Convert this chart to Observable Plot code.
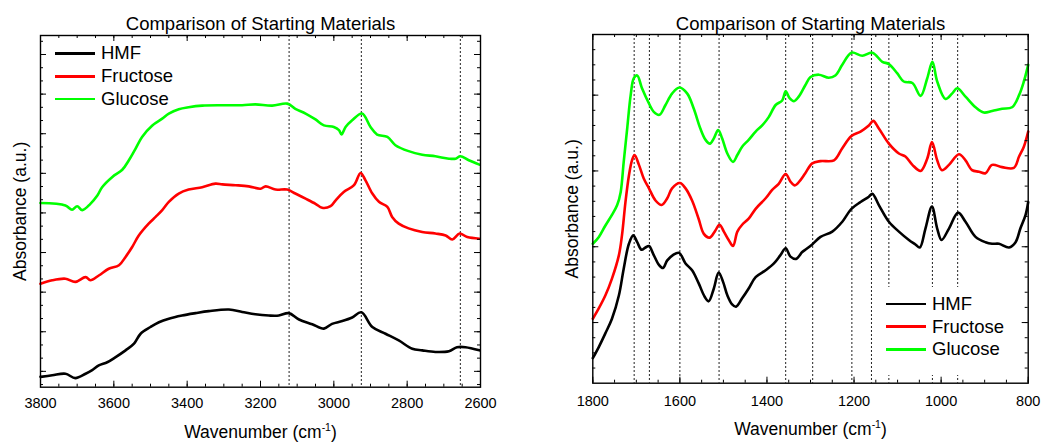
<!DOCTYPE html>
<html><head><meta charset="utf-8">
<script src="https://cdn.jsdelivr.net/npm/d3@7"></script>
<script src="https://cdn.jsdelivr.net/npm/@observablehq/plot@0.6"></script>
<style>
html,body{margin:0;padding:0;background:#fff;}
#wrap{position:relative;width:1042px;height:442px;overflow:hidden;font-family:"Liberation Sans",Arial,sans-serif;}
#wrap svg.panel{position:absolute;top:0;}
.legend{position:absolute;background:#fff;font-size:18.5px;color:#000;}
.legend .row{display:flex;align-items:center;height:22.8px;}
.legend .sw{width:40px;height:2.8px;margin-right:6px;}
</style>
</head><body>
<div id="wrap"></div>
<script>
// ---------- Series names & colours ----------
const seriesNames = ["HMF", "Fructose", "Glucose"];
const seriesColors = ["#000000", "#ff0000", "#00ff00"];

// ---------- Left panel (3800–2600 cm-1) ----------
const leftHMF_x = [3800,3768,3732,3705,3677,3659,3641,3618,3595,3568,3545,3527,3500,3477,3450,3414,3377,3341,3286,3250,3214,3177,3150,3123,3095,3059,3027,3005,2977,2950,2925,2895,2859,2823,2786,2759,2723,2686,2664,2641,2603];
const leftHMF_y = [-0.14,-0.10,-0.06,-0.17,-0.06,0.03,0.15,0.23,0.36,0.53,0.70,0.95,1.12,1.24,1.33,1.41,1.47,1.52,1.56,1.50,1.44,1.41,1.41,1.47,1.31,1.19,1.08,1.20,1.27,1.36,1.49,1.12,0.95,0.78,0.57,0.53,0.49,0.51,0.61,0.61,0.53];

const leftFru_x = [3800,3768,3732,3705,3677,3664,3641,3614,3586,3568,3550,3532,3505,3486,3468,3450,3423,3396,3359,3323,3304,3268,3232,3200,3186,3159,3127,3105,3077,3050,3032,3009,2995,2973,2945,2927,2914,2895,2877,2854,2841,2823,2796,2759,2723,2695,2677,2657,2636,2603];
const leftFru_y = [2.21,2.30,2.34,2.26,2.38,2.30,2.42,2.59,2.68,2.89,3.14,3.43,3.73,3.90,4.07,4.28,4.49,4.59,4.65,4.74,4.72,4.70,4.67,4.61,4.67,4.59,4.59,4.49,4.36,4.23,4.13,4.17,4.32,4.53,4.70,5.01,4.83,4.49,4.28,4.15,3.90,3.73,3.61,3.52,3.48,3.43,3.33,3.48,3.39,3.35];

const leftGlu_x = [3800,3732,3714,3700,3686,3664,3645,3632,3604,3577,3559,3541,3523,3495,3468,3450,3423,3396,3359,3304,3250,3214,3168,3127,3105,3077,3050,3027,3000,2986,2979,2968,2950,2923,2900,2882,2854,2832,2796,2759,2723,2686,2668,2655,2632,2603];
const leftGlu_y = [4.25,4.19,4.08,4.17,4.07,4.23,4.44,4.65,4.91,5.09,5.33,5.62,5.92,6.21,6.38,6.51,6.62,6.67,6.71,6.72,6.72,6.74,6.71,6.76,6.63,6.51,6.36,6.21,6.17,6.09,5.98,6.17,6.34,6.51,6.17,5.98,5.92,5.71,5.56,5.47,5.43,5.37,5.37,5.43,5.33,5.22];

const leftPeaks = [3122, 2925, 2655];
const leftXTicks = [3800, 3600, 3400, 3200, 3000, 2800, 2600];
const leftYTicks = [0, 1, 2, 3, 4, 5, 6, 7, 8];

// ---------- Right panel (1800–800 cm-1) ----------
const rightHMF_x = [1800,1786,1771,1756,1740,1729,1717,1707,1698,1688,1679,1671,1660,1648,1639,1629,1616,1602,1587,1572,1557,1543,1534,1522,1511,1501,1491,1480,1471,1457,1442,1426,1403,1384,1369,1357,1346,1333,1319,1312,1296,1277,1250,1227,1206,1185,1166,1158,1143,1120,1097,1074,1059,1049,1036,1021,1009,999,982,961,944,921,898,883,867,844,829,818,806,800];
const rightHMF_y = [-0.47,-0.32,-0.14,0.05,0.36,0.71,1.04,1.15,1.06,0.96,0.99,1.01,0.89,0.76,0.72,0.82,0.89,0.92,0.78,0.69,0.52,0.34,0.28,0.45,0.66,0.54,0.36,0.24,0.21,0.32,0.45,0.60,0.69,0.78,0.89,0.98,0.87,0.84,0.93,0.96,1.03,1.13,1.20,1.33,1.50,1.59,1.66,1.70,1.55,1.33,1.20,1.09,1.03,0.99,1.24,1.53,1.24,1.09,1.24,1.45,1.33,1.13,1.06,1.04,1.04,0.99,1.06,1.24,1.42,1.59];

const rightFru_x = [1800,1786,1771,1756,1740,1733,1725,1717,1710,1704,1694,1683,1671,1656,1642,1629,1618,1600,1587,1572,1557,1545,1532,1520,1509,1499,1488,1478,1468,1457,1442,1426,1403,1388,1373,1357,1346,1336,1323,1312,1296,1277,1246,1227,1206,1185,1166,1156,1143,1120,1097,1082,1066,1047,1032,1021,1009,998,982,959,944,929,913,898,883,860,833,821,810,800];
const rightFru_y = [0.05,0.19,0.36,0.58,0.89,1.15,1.59,1.94,2.14,2.21,2.08,1.90,1.77,1.61,1.55,1.64,1.77,1.84,1.77,1.61,1.37,1.17,1.12,1.20,1.29,1.20,1.09,1.01,1.20,1.29,1.37,1.50,1.64,1.75,1.83,1.96,1.86,1.81,1.88,1.97,2.10,2.13,2.14,2.30,2.46,2.52,2.60,2.66,2.56,2.36,2.23,2.19,2.08,2.00,2.16,2.38,2.14,2.01,2.08,2.22,2.14,2.01,1.99,1.97,2.08,2.05,2.04,2.19,2.32,2.52];

const rightGlu_x = [1800,1786,1771,1756,1744,1736,1729,1721,1713,1706,1698,1687,1671,1660,1647,1633,1618,1601,1583,1568,1553,1541,1531,1522,1512,1503,1491,1478,1468,1457,1442,1426,1411,1396,1380,1365,1357,1348,1338,1327,1312,1300,1281,1258,1243,1227,1206,1181,1158,1135,1120,1101,1086,1066,1047,1032,1020,1009,990,975,963,944,921,902,883,860,837,821,810,800];
const rightGlu_y = [1.04,1.13,1.28,1.42,1.55,1.72,2.12,2.56,3.00,3.22,3.26,3.09,2.89,2.78,2.74,2.87,3.02,3.10,3.02,2.82,2.56,2.41,2.36,2.43,2.54,2.43,2.23,2.12,2.21,2.32,2.41,2.52,2.60,2.71,2.87,2.93,3.05,2.96,2.92,2.98,3.13,3.24,3.27,3.23,3.26,3.40,3.56,3.52,3.56,3.44,3.41,3.29,3.18,3.16,2.99,3.22,3.44,3.18,2.95,3.02,3.09,2.98,2.84,2.77,2.79,2.82,2.84,3.00,3.18,3.40];

const rightPeaks = [1705, 1670, 1600, 1510, 1357, 1295, 1205, 1160, 1120, 1020, 962];
const rightXTicks = [1800, 1600, 1400, 1200, 1000, 800];
const rightYTicks = [0, 1, 2, 3];

// ---------- Texts ----------
const titleText = "Comparison of Starting Materials";
const xLabelText = "Wavenumber (cm-1)";
const yLabelText = "Absorbance (a.u.)";

const FONT = '"Liberation Sans", Arial, sans-serif';

function rows(xs, ys, name) { return xs.map((x, i) => ({wn: x, a: ys[i], s: name})); }

function panel(o) {
  const W = 521, H = 442;
  const fw = W - o.ml - o.mr, fh = H - o.mt - o.mb;
  const data = [
    ...rows(o.series[0][0], o.series[0][1], seriesNames[0]),
    ...rows(o.series[1][0], o.series[1][1], seriesNames[1]),
    ...rows(o.series[2][0], o.series[2][1], seriesNames[2])
  ];
  const xMinor = d3.range(Math.min(...o.xDomain), Math.max(...o.xDomain) + 1, 50);
  const yMinor = d3.range(Math.ceil(o.yDomain[0] * o.ySub + 1e-6), Math.floor(o.yDomain[1] * o.ySub - 1e-6) + 1).map(k => k / o.ySub);
  const plot = Plot.plot({
    width: W, height: H,
    marginLeft: o.ml, marginRight: o.mr, marginTop: o.mt, marginBottom: o.mb,
    x: {domain: o.xDomain, axis: null},
    y: {domain: o.yDomain, axis: null},
    color: {domain: seriesNames, range: seriesColors},
    style: {fontFamily: FONT, background: "transparent", overflow: "visible"},
    marks: [
      Plot.ruleX(o.peaks, {x: d => d, stroke: "#222", strokeWidth: 1, strokeDasharray: "2,2"}),
      Plot.line(data, {x: "wn", y: "a", z: "s", stroke: "s", strokeWidth: 2.6, curve: "catmull-rom", strokeLinejoin: "round"}),
      // inward ticks on all four sides
      Plot.tickX(xMinor, {x: d => d, insetTop: fh - 3, stroke: "#000"}),
      Plot.tickX(o.xTicks, {x: d => d, insetTop: fh - 6, stroke: "#000"}),
      Plot.tickX(xMinor, {x: d => d, insetBottom: fh - 3, stroke: "#000"}),
      Plot.tickX(o.xTicks, {x: d => d, insetBottom: fh - 6, stroke: "#000"}),
      Plot.tickY(yMinor, {y: d => d, insetRight: fw - 3, stroke: "#000"}),
      Plot.tickY(o.yTicks, {y: d => d, insetRight: fw - 6, stroke: "#000"}),
      Plot.tickY(yMinor, {y: d => d, insetLeft: fw - 3, stroke: "#000"}),
      Plot.tickY(o.yTicks, {y: d => d, insetLeft: fw - 6, stroke: "#000"}),
      Plot.frame({stroke: "#000", strokeWidth: 1.4}),
      Plot.text(o.xTicks, {x: d => d, text: d => String(d), frameAnchor: "bottom", lineAnchor: "top", dy: o.tickDy, fontSize: 14.5, fill: "#000"}),
      Plot.text([xLabelText], {frameAnchor: "bottom", lineAnchor: "top", dy: o.xlabDy, fontSize: 17.5, fill: "#000"}),
      Plot.text([yLabelText], {frameAnchor: "left", textAnchor: "middle", rotate: -90, dx: o.ylabDx, fontSize: 17.5, fill: "#000"}),
      Plot.text([titleText], {frameAnchor: "top", lineAnchor: "bottom", dy: o.titleDy, fontSize: 18.5, fill: "#000"})
    ]
  });
  plot.classList.add("panel");
  plot.style.left = o.left + "px";
  // superscript for cm-1
  d3.select(plot).selectAll("text").each(function() {
    if (this.textContent === xLabelText) {
      const t = d3.select(this);
      t.text(null);
      t.append("tspan").text("Wavenumber (cm");
      t.append("tspan").attr("font-size", "10.5px").attr("dy", "-6.5").text("-1");
      t.append("tspan").attr("dy", "6.5").text(")");
    }
  });
  return plot;
}

function legend(left, top, pad) {
  const div = document.createElement("div");
  div.className = "legend";
  div.style.left = left + "px";
  div.style.top = top + "px";
  div.style.padding = pad;
  seriesNames.forEach((n, i) => {
    const r = document.createElement("div");
    r.className = "row";
    const sw = document.createElement("div");
    sw.className = "sw";
    sw.style.background = seriesColors[i];
    const tx = document.createElement("span");
    tx.textContent = n;
    r.appendChild(sw); r.appendChild(tx);
    div.appendChild(r);
  });
  return div;
}

const wrap = document.getElementById("wrap");
wrap.appendChild(panel({
  left: 0, ml: 40, mr: 41, mt: 35, mb: 55.3,
  xDomain: [3800, 2600], yDomain: [-0.4, 8.48], ySub: 3,
  xTicks: leftXTicks, yTicks: leftYTicks, peaks: leftPeaks,
  series: [[leftHMF_x, leftHMF_y], [leftFru_x, leftFru_y], [leftGlu_x, leftGlu_y]],
  tickDy: 10.6, xlabDy: 38.3, ylabDx: -20, titleDy: -6
}));
wrap.appendChild(panel({
  left: 521, ml: 71.3, mr: 14.3, mt: 34, mb: 59.3,
  xDomain: [1800, 800], yDomain: [-0.8, 3.8], ySub: 5,
  xTicks: rightXTicks, yTicks: rightYTicks, peaks: rightPeaks,
  series: [[rightHMF_x, rightHMF_y], [rightFru_x, rightFru_y], [rightGlu_x, rightGlu_y]],
  tickDy: 12.3, xlabDy: 39, ylabDx: -20.8, titleDy: -5
}));
wrap.appendChild(legend(55, 42, "0"));
wrap.appendChild(legend(880, 287, "5.5px 14px 14px 6px"));
</script>
</body></html>
